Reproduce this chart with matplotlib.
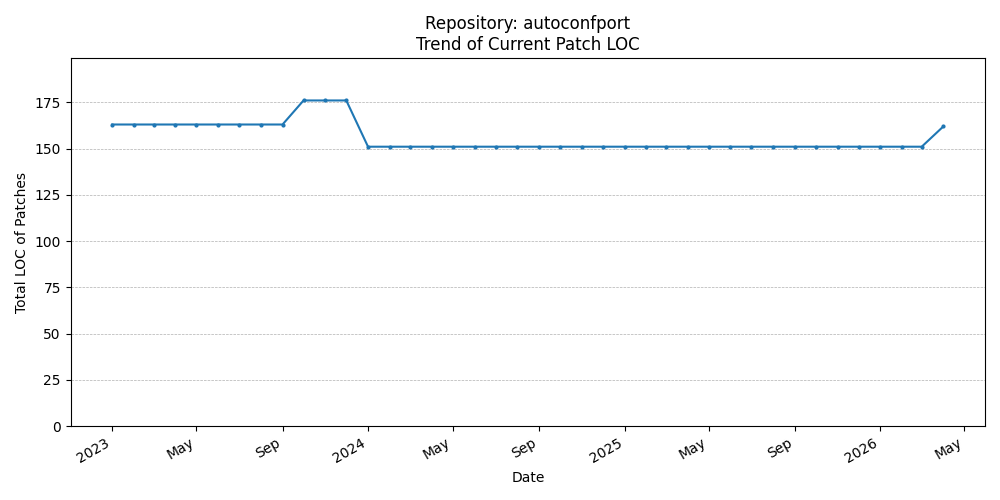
import matplotlib
matplotlib.use("Agg")
import matplotlib.pyplot as plt
import matplotlib.dates as mdates
import pandas as pd

# monthly snapshots
dates = pd.date_range("2023-01-01", "2026-04-01", freq="MS")
loc_values = [163] * 9 + [176] * 3 + [151] * 27 + [162]

fig, ax = plt.subplots(figsize=(10, 5))
ax.plot(dates, loc_values, marker="o", markersize=2, color="#1f77b4")

ax.set_title("Repository: autoconfport\nTrend of Current Patch LOC")
ax.set_xlabel("Date")
ax.set_ylabel("Total LOC of Patches")
ax.set_ylim(0, max(loc_values) * 1.13)
ax.grid(True, axis="y", linestyle="--", linewidth=0.5)

locator = mdates.AutoDateLocator()
ax.xaxis.set_major_locator(locator)
ax.xaxis.set_major_formatter(mdates.ConciseDateFormatter(locator))
fig.autofmt_xdate()

plt.tight_layout()
plt.savefig("out.png", dpi=100)
